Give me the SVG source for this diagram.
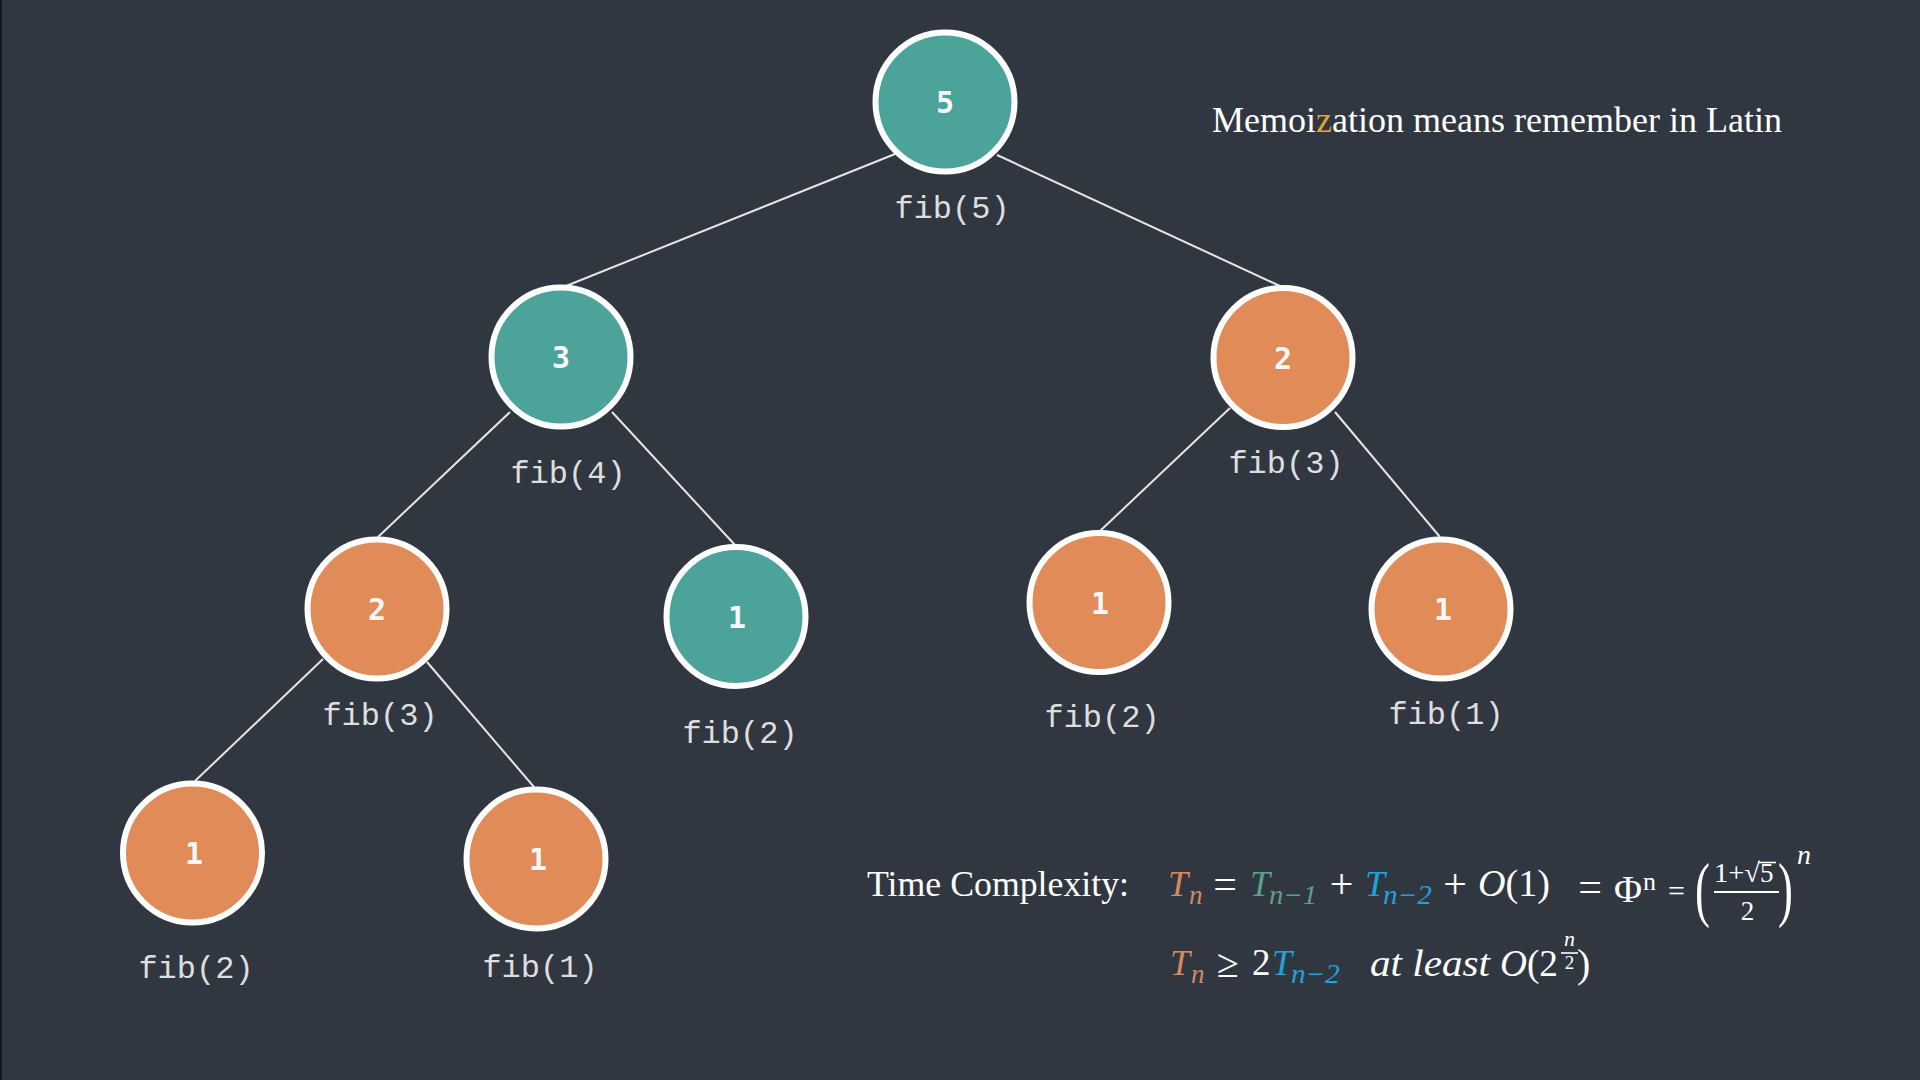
<svg xmlns="http://www.w3.org/2000/svg" width="1920" height="1080" viewBox="0 0 1920 1080">
<style>
.bg{fill:#313741}
.edge{stroke:#e6e6e6;stroke-width:2;fill:none}
.teal{fill:#4ca399;stroke:#ffffff;stroke-width:6}
.orange{fill:#e08b58;stroke:#ffffff;stroke-width:6}
.num{font-family:"DejaVu Sans Mono",monospace;font-weight:bold;font-size:30px;fill:#f8f8f8;text-anchor:middle}
.lbl{font-family:"Liberation Mono",monospace;font-size:32px;fill:#dedede;text-anchor:middle}
.serif{font-family:"Liberation Serif",serif;fill:#ffffff}
.m{font-family:"Liberation Serif",serif;fill:#ffffff}
.it{font-style:italic}
.cO{fill:#d4895e}
.cG{fill:#5f9f89}
.cB{fill:#1fa3da}
</style>
<rect class="bg" x="0" y="0" width="1920" height="1080"/>
<rect x="0" y="0" width="2" height="1080" fill="#16191d"/>

<g id="connectors">
<line class="edge" x1="895" y1="154" x2="566" y2="286"/>
<line class="edge" x1="997" y1="155" x2="1280" y2="286"/>
<line class="edge" x1="510" y1="412" x2="378" y2="537"/>
<line class="edge" x1="612" y1="412" x2="735" y2="545"/>
<line class="edge" x1="1230" y1="408" x2="1100" y2="531"/>
<line class="edge" x1="1335" y1="412" x2="1440" y2="537"/>
<line class="edge" x1="323" y1="659" x2="195" y2="781"/>
<line class="edge" x1="427" y1="662" x2="534" y2="787"/>
</g>

<g id="node-fib5">
<circle class="teal" cx="945" cy="102" r="69.5"/>
<text class="num" x="945" y="113">5</text>
<text class="lbl" x="952" y="218">fib(5)</text>
</g>
<g id="node-fib4">
<circle class="teal" cx="561" cy="357" r="69.5"/>
<text class="num" x="561" y="368">3</text>
<text class="lbl" x="568" y="483">fib(4)</text>
</g>
<g id="node-fib3-right">
<circle class="orange" cx="1283" cy="357.5" r="69.5"/>
<text class="num" x="1283" y="369">2</text>
<text class="lbl" x="1286" y="473">fib(3)</text>
</g>
<g id="node-fib3-left">
<circle class="orange" cx="377" cy="609" r="69.5"/>
<text class="num" x="377" y="620">2</text>
<text class="lbl" x="380" y="725">fib(3)</text>
</g>
<g id="node-fib2-mid">
<circle class="teal" cx="736" cy="616.5" r="69.5"/>
<text class="num" x="737" y="628">1</text>
<text class="lbl" x="740" y="743">fib(2)</text>
</g>
<g id="node-fib2-right">
<circle class="orange" cx="1099" cy="602.5" r="69.5"/>
<text class="num" x="1100" y="614">1</text>
<text class="lbl" x="1102" y="727">fib(2)</text>
</g>
<g id="node-fib1-right">
<circle class="orange" cx="1441" cy="609" r="69.5"/>
<text class="num" x="1443" y="620">1</text>
<text class="lbl" x="1446" y="724">fib(1)</text>
</g>
<g id="node-fib2-left">
<circle class="orange" cx="192.5" cy="853" r="69.5"/>
<text class="num" x="194" y="864">1</text>
<text class="lbl" x="196" y="978">fib(2)</text>
</g>
<g id="node-fib1-left">
<circle class="orange" cx="536" cy="859" r="69.5"/>
<text class="num" x="538" y="870">1</text>
<text class="lbl" x="540" y="977">fib(1)</text>
</g>

<g id="note">
<text class="serif" x="1212" y="132" font-size="36" textLength="570" lengthAdjust="spacingAndGlyphs">Memoi<tspan fill="#d9aa2c">z</tspan>ation means remember in Latin</text>
</g>

<g id="complexity">
<text class="serif" x="867" y="896" font-size="36" textLength="262" lengthAdjust="spacingAndGlyphs">Time Complexity:</text>

<!-- line 1 -->
<text class="m it cO" x="1168" y="896" font-size="36">T</text>
<text class="m it cO" x="1189" y="904" font-size="27">n</text>
<text class="m" x="1225" y="898" font-size="42" text-anchor="middle">=</text>
<text class="m it cG" x="1250" y="896" font-size="36">T</text>
<text class="m it cG" x="1269" y="904" font-size="27" textLength="48" lengthAdjust="spacingAndGlyphs">n−1</text>
<text class="m" x="1341.5" y="898" font-size="42" text-anchor="middle">+</text>
<text class="m it cB" x="1365" y="896" font-size="36">T</text>
<text class="m it cB" x="1383" y="904" font-size="27" textLength="49" lengthAdjust="spacingAndGlyphs">n−2</text>
<text class="m" x="1455" y="898" font-size="42" text-anchor="middle">+</text>
<text class="m" x="1478" y="896" font-size="37" textLength="72" lengthAdjust="spacingAndGlyphs"><tspan font-style="italic">O</tspan>(1)</text>
<text class="m" x="1590" y="901" font-size="42" text-anchor="middle">=</text>
<text class="m" x="1614" y="902" font-size="37" textLength="28" lengthAdjust="spacingAndGlyphs">Φ</text>
<text class="m" x="1643" y="890" font-size="26">n</text>
<text class="m" x="1676.5" y="901" font-size="30" text-anchor="middle">=</text>
<text class="m" transform="translate(1695,913) scale(0.62,1)" font-size="72">(</text>
<text class="m" x="1714" y="882" font-size="27" textLength="46" lengthAdjust="spacingAndGlyphs">1+√</text>
<line x1="1758" y1="862.5" x2="1776" y2="862.5" stroke="#ffffff" stroke-width="1.6"/>
<text class="m" x="1760" y="882" font-size="27">5</text>
<line x1="1714" y1="892" x2="1779" y2="892" stroke="#ffffff" stroke-width="2"/>
<text class="m" x="1747.5" y="920" font-size="27" text-anchor="middle">2</text>
<text class="m" transform="translate(1778,913) scale(0.62,1)" font-size="72">)</text>
<text class="m it" x="1797" y="864" font-size="28">n</text>

<!-- line 2 -->
<text class="m it cO" x="1170" y="975" font-size="36">T</text>
<text class="m it cO" x="1191" y="983" font-size="27">n</text>
<text class="m" x="1228" y="977" font-size="40" text-anchor="middle">≥</text>
<text class="m" x="1252" y="975" font-size="37">2</text>
<text class="m it cB" x="1272" y="975" font-size="36">T</text>
<text class="m it cB" x="1291" y="983" font-size="27" textLength="49" lengthAdjust="spacingAndGlyphs">n−2</text>
<text class="m it" x="1370" y="976" font-size="37" textLength="120" lengthAdjust="spacingAndGlyphs">at least</text>
<text class="m" x="1500" y="976" font-size="38" textLength="58" lengthAdjust="spacingAndGlyphs"><tspan font-style="italic">O</tspan>(2</text>
<text class="m it" x="1569.5" y="946" font-size="22" text-anchor="middle">n</text>
<line x1="1561" y1="953" x2="1578" y2="953" stroke="#ffffff" stroke-width="1.6"/>
<text class="m" x="1569.5" y="969" font-size="19" text-anchor="middle">2</text>
<text class="m" x="1577" y="977" font-size="40">)</text>
</g>
</svg>
